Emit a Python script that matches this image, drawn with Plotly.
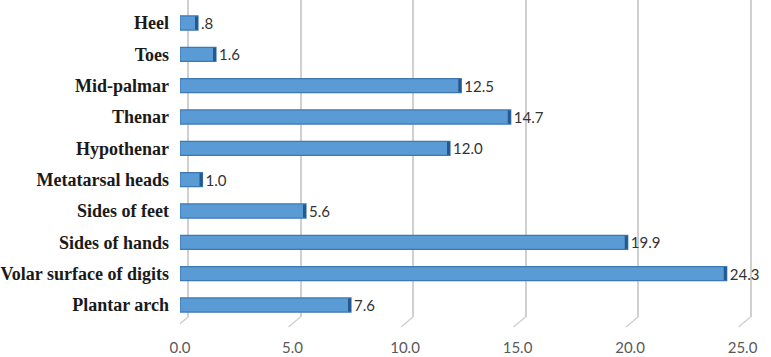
import plotly.graph_objects as go

categories = ["Heel", "Toes", "Mid-palmar", "Thenar", "Hypothenar", "Metatarsal heads",
              "Sides of feet", "Sides of hands", "Volar surface of digits", "Plantar arch"]
values = [0.8, 1.6, 12.5, 14.7, 12.0, 1.0, 5.6, 19.9, 24.3, 7.6]
tick_vals = [0, 5, 10, 15, 20, 25]
tick_text = ["0.0", "5.0", "10.0", "15.0", "20.0", "25.0"]

labels = [(f"{v:.1f}"[1:] if v < 1 else f"{v:.1f}") for v in values]
idx = list(range(len(categories)))

W, H = 771, 357
L, R, T, B = 180, 6, 0, 40
px_per_unit = (W - L - R) / 26.0
depth_x = 8 / px_per_unit  # gridline offset (3D depth)
cap = 3 / px_per_unit      # dark end-cap thickness

fig = go.Figure()
fig.add_trace(go.Bar(
    x=values, y=idx, orientation="h",
    marker=dict(color="#5b9bd5", line=dict(color="#3b78b5", width=1.2)),
    text=labels, textposition="outside", cliponaxis=False, constraintext="none",
    textfont=dict(family="Lato, sans-serif", size=15, color="#333333"),
    width=0.45, showlegend=False, hoverinfo="skip",
))
# dark end cap for a pseudo-3D look
fig.add_trace(go.Bar(
    x=[cap] * len(values), base=[v - cap for v in values], y=idx, orientation="h",
    marker=dict(color="#24598f", line=dict(width=0)),
    width=0.42, showlegend=False, hoverinfo="skip",
))
# invisible trace to activate grid axis
fig.add_trace(go.Scatter(x=[0], y=[0], xaxis="x2", mode="markers",
                         marker=dict(opacity=0), showlegend=False, hoverinfo="skip"))

shapes = []
for v in tick_vals:
    shapes.append(dict(type="line", xref="x2", yref="paper",
                       x0=v, y0=0, x1=v - 12 / px_per_unit, y1=-10 / (H - T - B),
                       line=dict(color="#d0d0d0", width=1.5), layer="below"))

fig.update_layout(
    width=W, height=H, margin=dict(l=L, r=R, t=T, b=B, autoexpand=False),
    paper_bgcolor="white", plot_bgcolor="white",
    shapes=shapes, barmode="overlay",
    xaxis=dict(range=[0, 26], tickvals=tick_vals, ticktext=tick_text,
               showgrid=False, zeroline=False, showline=False, ticks="",
               ticklabelstandoff=20, automargin=False,
               tickfont=dict(family="Lato, sans-serif", size=15, color="#595959")),
    xaxis2=dict(range=[-depth_x, 26 - depth_x], overlaying="x", tickvals=tick_vals,
                showticklabels=False, showgrid=True, gridcolor="#d0d0d0", gridwidth=1.5,
                zeroline=False, showline=False, automargin=False),
    yaxis=dict(range=[9.383, -0.734], tickvals=idx, ticktext=categories,
               showgrid=False, zeroline=False, showline=False, ticks="",
               ticklabelstandoff=10, automargin=False,
               tickfont=dict(family="Liberation Serif, serif", size=18, color="#1a1a1a",
                             weight="bold")),
    bargap=0.55,
)

fig.write_html("out.html", config={"displayModeBar": False},
               post_script="document.body.style.margin='0';document.body.style.overflow='hidden';")
